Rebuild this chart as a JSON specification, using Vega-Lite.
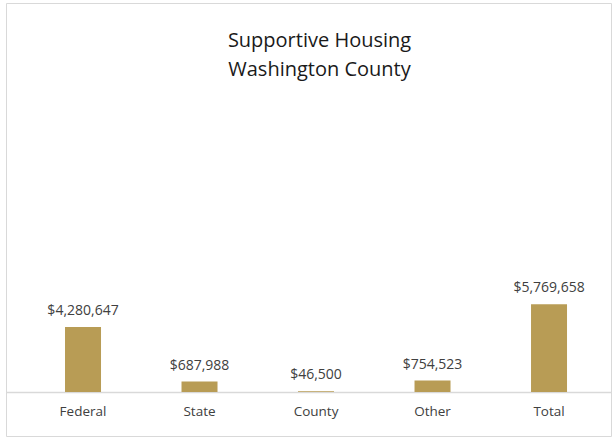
{
  "$schema": "https://vega.github.io/schema/vega-lite/v6.json",
  "width": 605,
  "height": 433,
  "autosize": {"type": "none"},
  "padding": {"left": 6, "top": 3, "right": 5, "bottom": 4},
  "background": "white",
  "config": {
    "view": {"stroke": "#d9d9d9", "strokeWidth": 1},
    "font": "Open Sans"
  },
  "title": {
    "text": ["Supportive Housing", "Washington County"],
    "anchor": "middle",
    "frame": "group",
    "orient": "top",
    "baseline": "top",
    "offset": -77,
    "dx": 11,
    "fontSize": 20,
    "fontWeight": "normal",
    "lineHeight": 29,
    "color": "#1a1a1a",
    "font": "Open Sans"
  },
  "data": {
    "values": [
      {"source": "Federal", "amount": 4280647},
      {"source": "State", "amount": 687988},
      {"source": "County", "amount": 46500},
      {"source": "Other", "amount": 754523},
      {"source": "Total", "amount": 5769658}
    ]
  },
  "encoding": {
    "x": {
      "field": "source",
      "type": "nominal",
      "sort": null,
      "scale": {"paddingInner": 0.691, "paddingOuter": 0.442, "align": 0.573},
      "axis": {
        "title": null,
        "orient": "bottom",
        "offset": -44,
        "labelAngle": 0,
        "ticks": false,
        "domainColor": "#d9d9d9",
        "domainWidth": 1.5,
        "labelFontSize": 13.5,
        "labelColor": "#404040",
        "labelPadding": 12,
        "labelFont": "Open Sans"
      }
    },
    "y": {
      "field": "amount",
      "type": "quantitative",
      "scale": {"domain": [-2890000, 25590000], "nice": false, "zero": false},
      "axis": null
    }
  },
  "layer": [
    {
      "mark": {"type": "bar", "color": "#b89c55"},
      "encoding": {"y2": {"datum": 0}}
    },
    {
      "mark": {"type": "text", "baseline": "bottom", "dy": -9, "fontSize": 14, "color": "#404040", "font": "Open Sans"},
      "encoding": {"text": {"field": "amount", "type": "quantitative", "format": "$,.0f"}}
    }
  ]
}
